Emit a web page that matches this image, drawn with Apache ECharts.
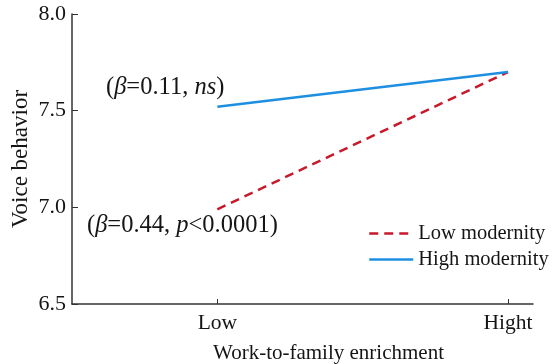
<!DOCTYPE html>
<html><head><meta charset="utf-8">
<script src="https://cdn.jsdelivr.net/npm/echarts@6/dist/echarts.min.js"></script>
<style>html,body{margin:0;padding:0;background:#fff}#c{width:553px;height:364px}</style>
</head><body><div id="c"></div>
<script>
const categories = ['Low', 'Hight'];
const categoryPos = [0, 1];
const lowModernity = [6.99, 7.70];
const highModernity = [7.52, 7.70];
const yTicks = [6.5, 7.0, 7.5, 8.0];
const seriesNames = ['Low modernity', 'High modernity'];
const annotations = ['({i|β}=0.11, {i|ns})', '({i|β}=0.44, {i|p}<0.0001)'];

const FONT = '"Liberation Serif", "DejaVu Serif", serif';
const TXT = '#151515';
const chart = echarts.init(document.getElementById('c'));
const toPairs = vals => vals.map((v, i) => [categoryPos[i], v]);
const rich = {i: {fontStyle: 'italic', fontFamily: FONT, fontSize: 24.5, fill: TXT, color: TXT}};

chart.setOption({
  animation: false,
  grid: {left: 72, right: 20, top: 14, bottom: 60, outerBoundsMode: 'none', containLabel: false},
  xAxis: {
    type: 'value', min: -0.5, max: 1.086,
    splitLine: {show: false},
    axisLine: {onZero: false, lineStyle: {color: '#333', width: 1.5}},
    axisTick: {inside: true, length: 5, customValues: categoryPos, lineStyle: {color: '#333'}},
    axisLabel: {customValues: categoryPos, formatter: v => categories[categoryPos.indexOf(v)] || '',
      fontFamily: FONT, fontSize: 21.5, color: TXT, margin: 8},
    name: 'Work-to-family enrichment', nameLocation: 'middle', nameGap: 39,
    nameTextStyle: {fontFamily: FONT, fontSize: 21, color: TXT, padding: [0, 0, 0, 52]}
  },
  yAxis: {
    type: 'value', min: 6.5, max: 8.0, interval: 0.5,
    splitLine: {show: false},
    axisLine: {show: true, onZero: false, lineStyle: {color: '#333', width: 1.5}},
    axisTick: {show: true, inside: true, length: 6, lineStyle: {color: '#333'}},
    axisLabel: {formatter: v => yTicks.includes(v) ? v.toFixed(1) : '', fontFamily: FONT, fontSize: 22, color: TXT, margin: 6},
    name: 'Voice behavior', nameLocation: 'middle', nameGap: 40, nameMoveOverlap: false,
    nameTextStyle: {fontFamily: FONT, fontSize: 23, color: TXT}
  },
  legend: {
    left: 368, top: 223, orient: 'vertical', itemGap: 5, itemWidth: 44, itemHeight: 14, padding: 0,
    itemStyle: {opacity: 0},
    lineStyle: {width: 2.5},
    textStyle: {fontFamily: FONT, fontSize: 20.5, color: TXT},
    data: seriesNames
  },
  series: [
    {name: seriesNames[0], type: 'line', data: toPairs(lowModernity), symbol: 'none',
      lineStyle: {color: '#C8192B', width: 2.5, type: [9, 6]}, itemStyle: {color: '#C8192B'}},
    {name: seriesNames[1], type: 'line', data: toPairs(highModernity), symbol: 'none',
      lineStyle: {color: '#1E8FE0', width: 2.5}, itemStyle: {color: '#1E8FE0'}}
  ],
  graphic: [
    {type: 'text', left: 106, top: 75, style: {
      text: annotations[0], rich: rich, fontFamily: FONT, fontSize: 24.5, fill: TXT}},
    {type: 'text', left: 87, top: 213, style: {
      text: annotations[1], rich: rich, fontFamily: FONT, fontSize: 24.5, fill: TXT}}
  ]
});
</script></body></html>
